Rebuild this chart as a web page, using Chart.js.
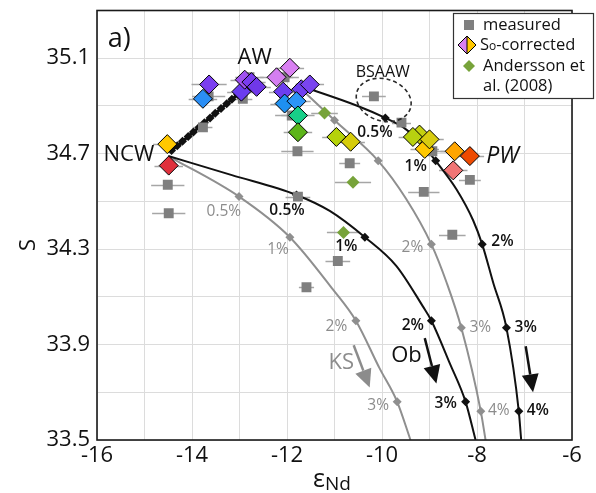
<!DOCTYPE html>
<html>
<head>
<meta charset="utf-8">
<script src="https://cdn.jsdelivr.net/npm/chart.js@4.4.0/dist/chart.umd.min.js"></script>
<style>
  html, body { margin: 0; padding: 0; background: #fff; }
  canvas { display: block; }
</style>
</head>
<body>
<canvas id="chart" width="596" height="493"></canvas>
<script>
const FONT = '"Open Sans", "Noto Sans", sans-serif';
const BLACK = '#111111';
const GREY = '#8c8c8c';

// measured samples (εNd, salinity, ±εNd)
const measuredNd  = [-14.51, -14.49, -13.77, -13.65, -12.93, -12.79, -12.05, -11.90, -11.78, -10.68, -10.17, -9.59, -8.94, -8.15, -9.12, -11.77, -8.52, -10.93, -11.59];
const measuredS   = [34.57, 34.45, 34.81, 34.94, 34.93, 35.02, 35.02, 34.86, 34.71, 34.66, 34.94, 34.83, 34.71, 34.59, 34.54, 34.52, 34.36, 34.25, 34.14];
const measuredErr = [0.35, 0.35, 0.20, 0.35, 0.20, 0.30, 0.30, 0.35, 0.34, 0.22, 0.25, 0.20, 0.30, 0.23, 0.33, 0.26, 0.28, 0.26, 0.16];

// S0-corrected samples
const correctedNd  = [-14.52, -14.49, -13.77, -13.64, -12.96, -12.89, -12.75, -12.64, -11.94, -12.22, -12.08, -11.70, -11.52, -12.05, -11.80, -11.77, -11.77, -10.96, -10.66, -9.21, -9.10, -9.35, -9.00, -8.47, -8.15, -8.50];
const correctedS   = [34.74, 34.65, 34.93, 34.99, 34.96, 35.01, 35.00, 34.98, 35.06, 35.02, 34.96, 34.97, 34.99, 34.91, 34.92, 34.86, 34.79, 34.77, 34.75, 34.78, 34.72, 34.77, 34.76, 34.71, 34.69, 34.63];
const correctedErr = [0.30, 0.30, 0.30, 0.37, 0.30, 0.30, 0.30, 0.30, 0.30, 0.35, 0.30, 0.30, 0.30, 0.30, 0.30, 0.35, 0.30, 0.30, 0.30, 0.30, 0.30, 0.30, 0.30, 0.30, 0.30, 0.30];
const correctedColors = ['#ffc800', '#e0303c', '#2a8ef5', '#7b3ff0', '#6a3cf0', '#a152f0', '#7a3cf0', '#7038e8', '#d980f2', '#d47ef0', '#6c3ff0', '#7040f0', '#7a45f0', '#1e90f0', '#2c95f8', '#18cf88', '#5db51a', '#b5d20a', '#d6cc0a', '#c4d010', '#ffc800', '#b8d010', '#d8cc10', '#ffa500', '#ee4a00', '#f07575'];

// Andersson et al. (2008)
const anderssonNd  = [-11.21, -10.61, -10.81];
const anderssonS   = [34.87, 34.58, 34.37];
const anderssonErr = [0.28, 0.38, 0.35];

// NCW - AW mixing line
const ncwAwNd = [-14.43, -14.31, -14.20, -14.08, -13.97, -13.85, -13.74, -13.62, -13.51, -13.39, -13.27, -13.16, -13.04, -12.93];
const ncwAwS  = [34.713, 34.733, 34.752, 34.772, 34.791, 34.811, 34.830, 34.850, 34.869, 34.889, 34.909, 34.928, 34.948, 34.968];

// river-water addition curves; marks = indices of the % points
const obNcwNd = [-14.50, -13.16, -11.80, -11.10, -10.36, -9.70, -9.14, -8.96, -8.57, -8.24, -8.03];
const obNcwS  = [34.69, 34.61, 34.527, 34.46, 34.35, 34.23, 34.06, 34.00, 33.82, 33.66, 33.50];
const obNcwMarks = [2, 4, 7, 9];

const ksNcwNd = [-14.50, -13.01, -11.94, -11.03, -10.55, -10.05, -9.68, -9.40];
const ksNcwS  = [34.69, 34.52, 34.35, 34.13, 34.00, 33.80, 33.66, 33.50];
const ksNcwMarks = [1, 2, 4, 6];

const obAwNd = [-11.80, -10.51, -9.93, -9.55, -9.20, -8.87, -8.43, -8.08, -7.89, -7.66, -7.38, -7.12, -7.07];
const obAwS  = [34.99, 34.90, 34.85, 34.81, 34.75, 34.67, 34.55, 34.42, 34.32, 34.16, 33.97, 33.62, 33.50];
const obAwMarks = [2, 5, 8, 10, 11];

const ksAwNd = [-11.80, -11.00, -10.08, -9.49, -8.96, -8.64, -8.33, -7.92, -7.82];
const ksAwS  = [34.99, 34.84, 34.67, 34.51, 34.32, 34.16, 33.97, 33.62, 33.50];
const ksAwMarks = [1, 2, 4, 6, 7];

// % labels: text, εNd, S, colour
const pctLabels = [
  ['0.5%', -13.33, 34.459, GREY],
  ['0.5%', -12.00, 34.461, BLACK],
  ['0.5%', -10.15, 34.790, BLACK],
  ['1%', -9.29, 34.645, BLACK],
  ['1%', -12.19, 34.297, GREY],
  ['1%', -10.75, 34.311, BLACK],
  ['2%', -9.36, 34.307, GREY],
  ['2%', -7.465, 34.332, BLACK],
  ['2%', -10.96, 33.976, GREY],
  ['2%', -9.35, 33.980, BLACK],
  ['3%', -7.93, 33.972, GREY],
  ['3%', -6.975, 33.972, BLACK],
  ['3%', -10.08, 33.645, GREY],
  ['3%', -8.66, 33.652, BLACK],
  ['4%', -7.54, 33.624, GREY],
  ['4%', -6.72, 33.624, BLACK]
];

// arrows: from εNd, from S, tip εNd, tip S, colour
const arrows = [
  [-10.596, 33.897, -10.259, 33.720, GREY],
  [-9.10, 33.927, -8.855, 33.737, BLACK],
  [-6.975, 33.893, -6.82, 33.700, BLACK]
];

const pts = (xs, ys) => xs.map((x, i) => ({ x: x, y: ys[i] }));

function curve(nd, s, marks, color) {
  return {
    data: pts(nd, s),
    showLine: true,
    borderColor: color,
    borderWidth: 2,
    cubicInterpolationMode: 'monotone',
    pointStyle: 'rectRot',
    pointRadius: nd.map((_, i) => marks.includes(i) ? 4.5 : 0),
    pointBackgroundColor: color,
    pointBorderColor: color,
    pointBorderWidth: 0,
    order: 5
  };
}

// horizontal εNd error bars, drawn under the markers
const errorBars = {
  id: 'errorBars',
  beforeDatasetsDraw(chart) {
    const { ctx, scales: { x, y } } = chart;
    const sets = [
      [measuredNd, measuredS, measuredErr],
      [anderssonNd, anderssonS, anderssonErr],
      [correctedNd, correctedS, correctedErr]
    ];
    ctx.save();
    ctx.strokeStyle = '#a6a6a6';
    ctx.lineWidth = 1.5;
    sets.forEach(([nd, s, err]) => {
      nd.forEach((v, i) => {
        const py = Math.round(y.getPixelForValue(s[i])) + 0.5;
        ctx.beginPath();
        ctx.moveTo(x.getPixelForValue(v - err[i]), py);
        ctx.lineTo(x.getPixelForValue(v + err[i]), py);
        ctx.stroke();
      });
    });
    ctx.restore();
  }
};

function drawArrow(ctx, x0, y0, x1, y1, color) {
  const ang = Math.atan2(y1 - y0, x1 - x0);
  const len = 18, half = 8.5;
  const bx = x1 - len * Math.cos(ang), by = y1 - len * Math.sin(ang);
  ctx.strokeStyle = color;
  ctx.fillStyle = color;
  ctx.lineWidth = 2.5;
  ctx.beginPath();
  ctx.moveTo(x0, y0);
  ctx.lineTo(bx, by);
  ctx.stroke();
  ctx.beginPath();
  ctx.moveTo(x1, y1);
  ctx.lineTo(bx + half * Math.sin(ang), by - half * Math.cos(ang));
  ctx.lineTo(bx - half * Math.sin(ang), by + half * Math.cos(ang));
  ctx.closePath();
  ctx.fill();
}

function text(ctx, str, px, py, font, color, align) {
  ctx.font = font;
  ctx.fillStyle = color;
  ctx.textAlign = align || 'center';
  ctx.textBaseline = 'middle';
  ctx.fillText(str, px, py);
}

const annotations = {
  id: 'annotations',
  afterDatasetsDraw(chart) {
    const { ctx, scales: { x, y } } = chart;
    const X = v => x.getPixelForValue(v), Y = v => y.getPixelForValue(v);
    ctx.save();

    // BSAAW circle
    ctx.strokeStyle = '#2a2a2a';
    ctx.lineWidth = 1.6;
    ctx.setLineDash([4, 3]);
    ctx.beginPath();
    ctx.ellipse(X(-9.964), Y(34.925), 28, 21, 0.3, 0, Math.PI * 2);
    ctx.stroke();
    ctx.setLineDash([]);

    arrows.forEach(a => drawArrow(ctx, X(a[0]), Y(a[1]), X(a[2]), Y(a[3]), a[4]));

    pctLabels.forEach(l => {
      const w = l[3] === BLACK ? '600 ' : '';
      text(ctx, l[0], X(l[1]), Y(l[2]), w + '15.5px ' + FONT, l[3]);
    });

    text(ctx, 'a)', X(-15.53), Y(35.18), '27px ' + FONT, BLACK);
    text(ctx, 'AW', X(-12.68), Y(35.103), '22px ' + FONT, BLACK);
    text(ctx, 'NCW', X(-15.33), Y(34.696), '22px ' + FONT, BLACK);
    text(ctx, 'PW', X(-7.46), Y(34.687), 'italic 23px ' + FONT, BLACK);
    text(ctx, 'BSAAW', X(-9.985), Y(35.041), '16px ' + FONT, BLACK);
    text(ctx, 'KS', X(-10.855), Y(33.824), '22px ' + FONT, GREY);
    text(ctx, 'Ob', X(-9.486), Y(33.852), '22px ' + FONT, BLACK);
    ctx.restore();
  },
  afterDraw(chart) {
    const { ctx, chartArea: a } = chart;
    ctx.save();
    // plot frame
    ctx.strokeStyle = '#1a1a1a';
    ctx.lineWidth = 1.6;
    ctx.strokeRect(a.left, a.top, a.right - a.left, a.bottom - a.top);

    // axis titles
    ctx.save();
    ctx.translate(29, 245);
    ctx.rotate(-Math.PI / 2);
    text(ctx, 'S', 0, 0, '22px ' + FONT, BLACK);
    ctx.restore();
    ctx.textBaseline = 'alphabetic';
    ctx.textAlign = 'left';
    ctx.fillStyle = BLACK;
    ctx.font = '25px ' + FONT;
    ctx.fillText('ε', 313, 487);
    const ew = ctx.measureText('ε').width;
    ctx.font = '19px ' + FONT;
    ctx.fillText('Nd', 313 + ew, 490);

    // legend
    const lx = 453, ly = 13, lw = 141, lh = 86;
    ctx.fillStyle = '#fff';
    ctx.fillRect(lx, ly, lw, lh);
    ctx.strokeStyle = '#333';
    ctx.lineWidth = 1.2;
    ctx.strokeRect(lx + 0.5, ly + 0.5, lw - 1, lh - 1);

    ctx.fillStyle = '#7f7f7f';
    ctx.fillRect(464, 20, 10, 10);

    // half pink / half gold diamond
    const dx = 467, dy = 45, r = 9;
    ctx.fillStyle = '#d980f2';
    ctx.beginPath();
    ctx.moveTo(dx, dy - r); ctx.lineTo(dx - r, dy); ctx.lineTo(dx, dy + r); ctx.closePath();
    ctx.fill();
    ctx.fillStyle = '#ffc800';
    ctx.beginPath();
    ctx.moveTo(dx, dy - r); ctx.lineTo(dx + r, dy); ctx.lineTo(dx, dy + r); ctx.closePath();
    ctx.fill();
    ctx.strokeStyle = '#000';
    ctx.lineWidth = 1;
    ctx.beginPath();
    ctx.moveTo(dx, dy - r); ctx.lineTo(dx + r, dy); ctx.lineTo(dx, dy + r); ctx.lineTo(dx - r, dy); ctx.closePath();
    ctx.moveTo(dx, dy - r); ctx.lineTo(dx, dy + r);
    ctx.stroke();

    ctx.fillStyle = '#77a33a';
    ctx.beginPath();
    ctx.moveTo(469, 60); ctx.lineTo(475, 66); ctx.lineTo(469, 72); ctx.lineTo(463, 66); ctx.closePath();
    ctx.fill();

    const f = '16.5px ' + FONT;
    text(ctx, 'measured', 483, 25, f, BLACK, 'left');
    text(ctx, 'S', 480, 45, f, BLACK, 'left');
    ctx.font = f;
    const sw = ctx.measureText('S').width;
    text(ctx, 'o', 480 + sw, 47, '12px ' + FONT, BLACK, 'left');
    ctx.font = '12px ' + FONT;
    const ow = ctx.measureText('o').width;
    text(ctx, '-corrected', 480 + sw + ow, 45, f, BLACK, 'left');
    text(ctx, 'Andersson et', 483, 66, f, BLACK, 'left');
    text(ctx, 'al. (2008)', 483, 86, f, BLACK, 'left');
    ctx.restore();
  }
};

new Chart(document.getElementById('chart'), {
  type: 'scatter',
  data: {
    datasets: [
      {
        data: pts(correctedNd, correctedS),
        pointStyle: 'rectRot',
        pointRadius: 9.5,
        pointBackgroundColor: correctedColors,
        pointBorderColor: '#000',
        pointBorderWidth: 1,
        order: 1
      },
      {
        data: pts(anderssonNd, anderssonS),
        pointStyle: 'rectRot',
        pointRadius: 6.5,
        pointBackgroundColor: '#77a33a',
        pointBorderColor: '#77a33a',
        pointBorderWidth: 0,
        order: 2
      },
      {
        data: pts(measuredNd, measuredS),
        pointStyle: 'rect',
        pointRadius: 7,
        pointBackgroundColor: '#7f7f7f',
        pointBorderColor: '#7f7f7f',
        pointBorderWidth: 0,
        order: 3
      },
      {
        data: pts(ncwAwNd, ncwAwS),
        showLine: true,
        borderColor: BLACK,
        borderWidth: 3,
        pointStyle: 'rectRot',
        pointRadius: 4.5,
        pointBackgroundColor: BLACK,
        pointBorderWidth: 0,
        order: 4
      },
      curve(obNcwNd, obNcwS, obNcwMarks, BLACK),
      curve(obAwNd, obAwS, obAwMarks, BLACK),
      curve(ksNcwNd, ksNcwS, ksNcwMarks, '#8f8f8f'),
      curve(ksAwNd, ksAwS, ksAwMarks, '#8f8f8f')
    ]
  },
  options: {
    responsive: false,
    animation: false,
    devicePixelRatio: 1,
    layout: { padding: { top: 7, right: 24, left: 0, bottom: 0 } },
    plugins: { legend: { display: false }, tooltip: { enabled: false } },
    scales: {
      x: {
        min: -16,
        max: -6,
        ticks: {
          stepSize: 1,
          autoSkip: false,
          maxRotation: 0,
          padding: 3,
          color: BLACK,
          font: { family: FONT, size: 22 },
          callback: v => (v % 2 === 0 ? String(v) : '')
        },
        grid: { color: '#dcdcdc', lineWidth: 1, drawTicks: false },
        border: { display: false },
        afterFit: s => { s.height = 53; s.paddingLeft = 0; s.paddingRight = 0; }
      },
      y: {
        min: 33.5,
        max: 35.3,
        ticks: {
          stepSize: 0.2,
          autoSkip: false,
          padding: 7,
          color: BLACK,
          font: { family: FONT, size: 22 },
          callback: v => (Math.round((v - 33.5) / 0.2) % 2 === 0 ? v.toFixed(1) : '')
        },
        grid: { color: '#dcdcdc', lineWidth: 1, drawTicks: false },
        border: { display: false },
        afterFit: s => { s.width = 97; s.paddingTop = 0; s.paddingBottom = 0; }
      }
    }
  },
  plugins: [errorBars, annotations]
});
</script>
</body>
</html>
